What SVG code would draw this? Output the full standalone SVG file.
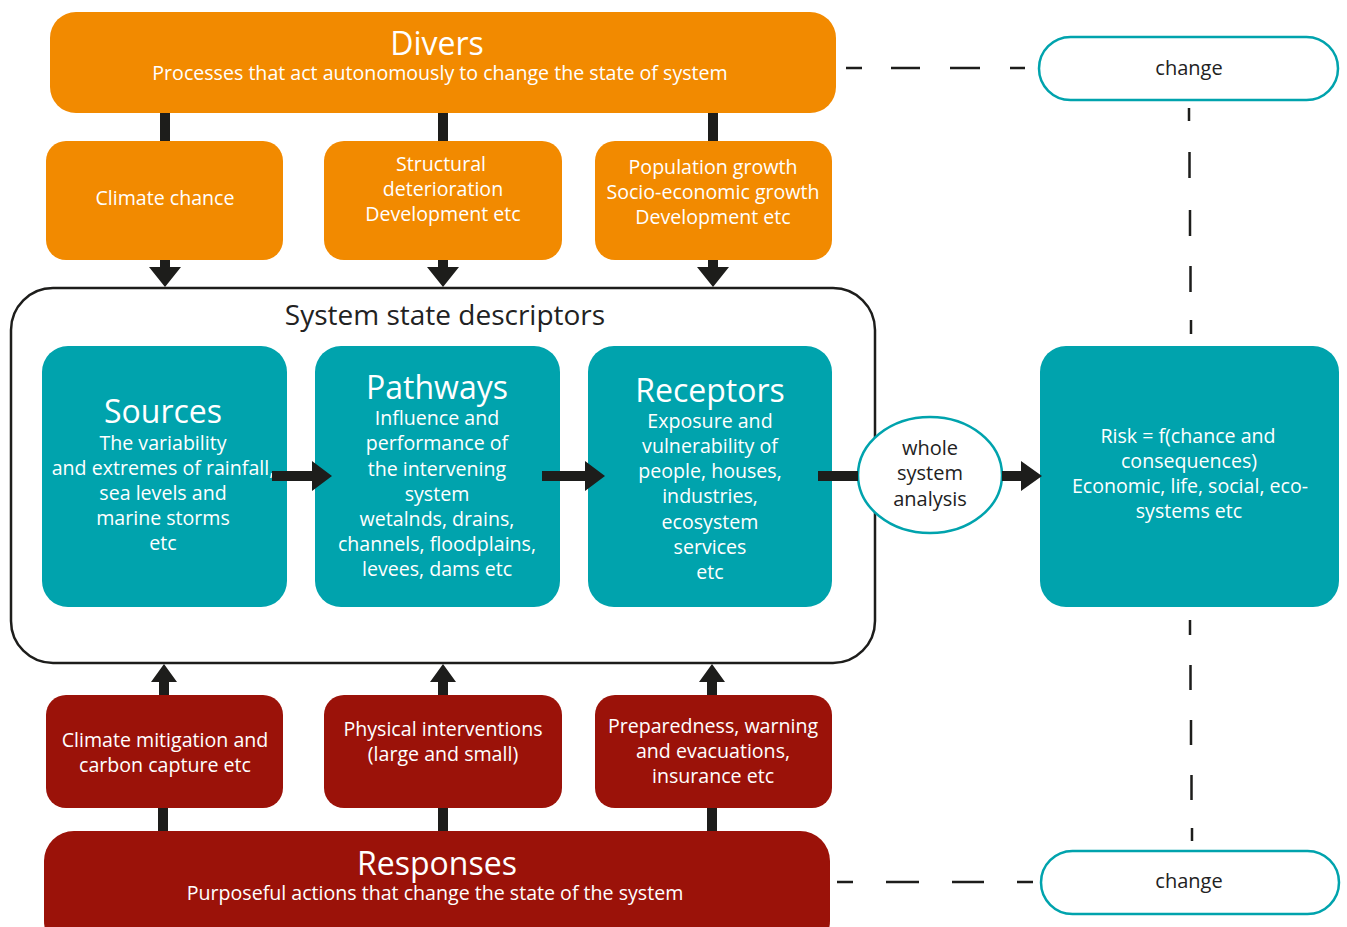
<svg xmlns="http://www.w3.org/2000/svg" width="1347" height="927" viewBox="0 0 1347 927">
<defs>
<style>
text{font-family:"Open Sans","Liberation Sans",sans-serif;text-anchor:middle;}
.w{fill:#ffffff;font-size:19.6px;}
.big{fill:#ffffff;font-size:32px;}
.d{fill:#222222;font-size:20px;}
.or{fill:#F28A00;}
.tl{fill:#00A3AD;}
.rd{fill:#9B1209;}
.bar{fill:#1d1d1b;}
.dash{stroke:#1d1d1b;stroke-width:2.5;fill:none;}
</style>
</defs>
<rect width="1347" height="927" fill="#ffffff"/>

<g id="divers">
<rect class="or" x="50" y="12" width="786" height="101" rx="26"/>
<text class="big" x="437" y="55">Divers</text>
<text class="w" x="440" y="80">Processes that act autonomously to change the state of system</text>
</g>

<g id="climate-chance">
<rect class="or" x="46" y="141" width="237" height="119" rx="20"/>
<text class="w" x="165" y="205">Climate chance</text>
</g>
<g id="structural">
<rect class="or" x="324" y="141" width="238" height="119" rx="20"/>
<text class="w" x="441" y="171">Structural</text>
<text class="w" x="443" y="196">deterioration</text>
<text class="w" x="443" y="221">Development etc</text>
</g>
<g id="population">
<rect class="or" x="595" y="141" width="237" height="119" rx="20"/>
<text class="w" x="713" y="174">Population growth</text>
<text class="w" x="713" y="199">Socio-economic growth</text>
<text class="w" x="713" y="224">Development etc</text>
</g>

<g id="system-state">
<rect x="11" y="288" width="864" height="375" rx="42" fill="#ffffff" stroke="#1d1d1b" stroke-width="2.5"/>
<text x="445" y="325" fill="#222222" font-size="28px">System state descriptors</text>
</g>

<g id="sources">
<rect class="tl" x="42" y="346" width="245" height="261" rx="26"/>
<text class="big" x="163" y="423">Sources</text>
<text class="w" x="163" y="450">The variability</text>
<text class="w" x="163" y="475">and extremes of rainfall,</text>
<text class="w" x="163" y="500">sea levels and</text>
<text class="w" x="163" y="525">marine storms</text>
<text class="w" x="163" y="550">etc</text>
</g>
<g id="pathways">
<rect class="tl" x="315" y="346" width="245" height="261" rx="26"/>
<text class="big" x="437" y="399">Pathways</text>
<text class="w" x="437" y="425">Influence and</text>
<text class="w" x="437" y="450">performance of</text>
<text class="w" x="437" y="476">the intervening</text>
<text class="w" x="437" y="501">system</text>
<text class="w" x="437" y="526">wetalnds, drains,</text>
<text class="w" x="437" y="551">channels, floodplains,</text>
<text class="w" x="437" y="576">levees, dams etc</text>
</g>
<g id="receptors">
<rect class="tl" x="588" y="346" width="244" height="261" rx="26"/>
<text class="big" x="710" y="402">Receptors</text>
<text class="w" x="710" y="428">Exposure and</text>
<text class="w" x="710" y="453">vulnerability of</text>
<text class="w" x="710" y="478">people, houses,</text>
<text class="w" x="710" y="503">industries,</text>
<text class="w" x="710" y="529">ecosystem</text>
<text class="w" x="710" y="554">services</text>
<text class="w" x="710" y="579">etc</text>
</g>

<g id="whole-system">
<ellipse cx="930" cy="475" rx="72" ry="58" fill="#ffffff" stroke="#00A3AD" stroke-width="2.5"/>
<text class="d" x="930" y="455">whole</text>
<text class="d" x="930" y="480">system</text>
<text class="d" x="930" y="506">analysis</text>
</g>

<g id="risk">
<rect class="tl" x="1040" y="346" width="299" height="261" rx="26"/>
<text class="w" x="1188" y="443">Risk = f(chance and</text>
<text class="w" x="1189" y="468">consequences)</text>
<text class="w" x="1190" y="493">Economic, life, social, eco-</text>
<text class="w" x="1189" y="518">systems etc</text>
</g>

<g id="change-top">
<rect x="1039" y="37" width="299" height="63" rx="31.5" fill="#ffffff" stroke="#00A3AD" stroke-width="2.5"/>
<text class="d" x="1189" y="75">change</text>
</g>
<g id="change-bottom">
<rect x="1041" y="851" width="298" height="63" rx="31.5" fill="#ffffff" stroke="#00A3AD" stroke-width="2.5"/>
<text class="d" x="1189" y="888">change</text>
</g>

<g id="climate-mitigation">
<rect class="rd" x="46" y="695" width="237" height="113" rx="20"/>
<text class="w" x="165" y="747">Climate mitigation and</text>
<text class="w" x="165" y="772">carbon capture etc</text>
</g>
<g id="physical">
<rect class="rd" x="324" y="695" width="238" height="113" rx="20"/>
<text class="w" x="443" y="736">Physical interventions</text>
<text class="w" x="443" y="761">(large and small)</text>
</g>
<g id="preparedness">
<rect class="rd" x="595" y="695" width="237" height="113" rx="20"/>
<text class="w" x="713" y="733">Preparedness, warning</text>
<text class="w" x="713" y="758">and evacuations,</text>
<text class="w" x="713" y="783">insurance etc</text>
</g>

<g id="responses">
<rect class="rd" x="44" y="831" width="786" height="120" rx="30"/>
<text class="big" x="437" y="875">Responses</text>
<text class="w" x="435" y="900">Purposeful actions that change the state of the system</text>
</g>

<g id="connectors">
<rect class="bar" x="160" y="113" width="10" height="28"/>
<rect class="bar" x="438" y="113" width="10" height="28"/>
<rect class="bar" x="708" y="113" width="10" height="28"/>
<path class="bar" d="M160,260 h10 v7 h11 l-16,20 l-16,-20 h11 z"/>
<path class="bar" d="M438,260 h10 v7 h11 l-16,20 l-16,-20 h11 z"/>
<path class="bar" d="M708,260 h10 v7 h11 l-16,20 l-16,-20 h11 z"/>
<path class="bar" d="M272,471 h40 v-10 l20,15 l-20,15 v-10 h-40 z"/>
<path class="bar" d="M542,471 h43 v-10 l20,15 l-20,15 v-10 h-43 z"/>
<rect class="bar" x="818" y="471" width="40" height="10"/>
<path class="bar" d="M1002,471 h19 v-10 l21,15 l-21,15 v-10 h-19 z"/>
<path class="bar" d="M159,695 v-13 h-8 l13,-18 l13,18 h-8 v13 z"/>
<path class="bar" d="M438,695 v-13 h-8 l13,-18 l13,18 h-8 v13 z"/>
<path class="bar" d="M707,695 v-13 h-8 l13,-18 l13,18 h-8 v13 z"/>
<rect class="bar" x="158" y="808" width="10" height="23"/>
<rect class="bar" x="438" y="808" width="10" height="23"/>
<rect class="bar" x="707" y="808" width="10" height="23"/>
<path class="dash" d="M846,68 H862 M891,68 H920 M950,68 H980 M1010,68 H1025"/>
<path class="dash" d="M837,882 H853 M886,882 H919 M952,882 H984 M1017,882 H1033"/>
<path class="dash" d="M1189,108 V121 M1189.5,152 V178 M1190,210 V236 M1190.5,266 V292 M1191,320 V334"/>
<path class="dash" d="M1190,620 V635 M1190.5,665 V690 M1191,720 V745 M1191.5,775 V800 M1192,828 V841"/>
</g>
</svg>
